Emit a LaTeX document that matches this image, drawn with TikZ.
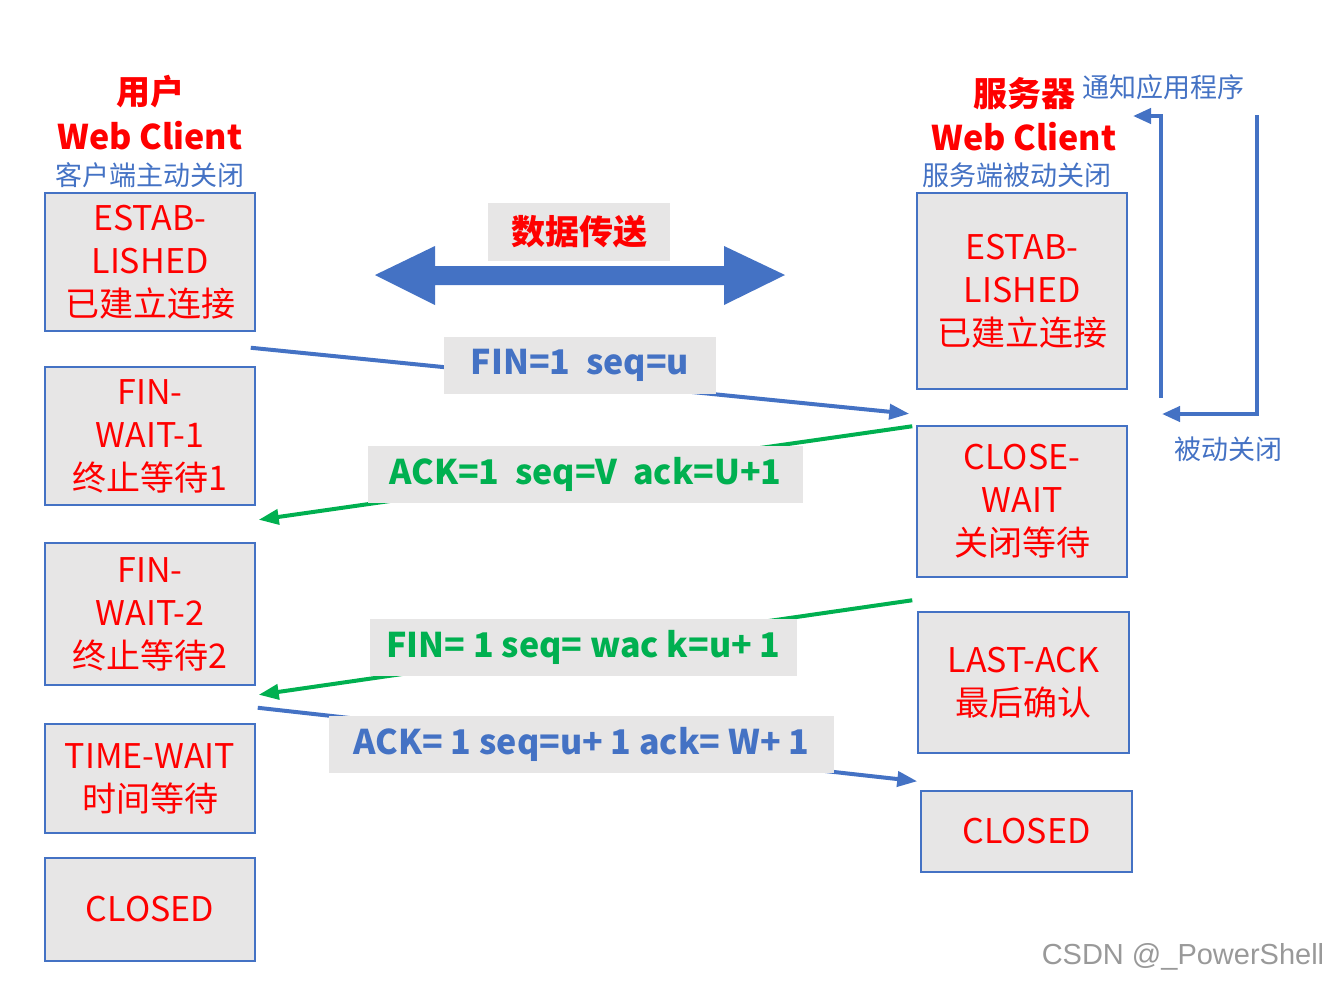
\documentclass[tikz,border=0pt]{standalone}
\usepackage{fontspec}
\setmainfont{Noto Sans CJK SC}
\newfontfamily\wmfont{Liberation Sans}
\usetikzlibrary{arrows.meta, positioning, calc}
\definecolor{tcpRed}{HTML}{FF0000}
\definecolor{tcpBlue}{HTML}{4472C4}
\definecolor{tcpGreen}{HTML}{00B050}
\definecolor{tcpGray}{HTML}{E7E6E6}

\begin{document}
\begin{tikzpicture}[x=1pt, y=-1pt,
  stbox/.style={draw=tcpBlue, line width=1.5pt, fill=tcpGray, text=tcpRed,
    align=center, minimum width=210pt, inner sep=0pt,
    font=\fontsize{34}{43}\selectfont},
  msglbl/.style={fill=tcpGray, inner sep=0pt, minimum height=57pt,
    font=\fontsize{34}{40}\selectfont\bfseries},
  hdr/.style={text=tcpRed, inner sep=0pt, font=\fontsize{34}{40}\selectfont\bfseries},
  subhdr/.style={text=tcpBlue, inner sep=0pt, font=\fontsize{27}{32}\selectfont},
  msg/.style={line width=4pt, -{Triangle[length=20pt, width=15pt]}},
  brk/.style={draw=tcpBlue, line width=4pt, -{Triangle[length=18pt, width=15pt]}}]
  \useasboundingbox (0,0) rectangle (1344,986);

  \node[stbox, minimum height=138pt] (L1) at (150,262) {ESTAB-\\LISHED\\已建立连接};
  \node[stbox, minimum height=138pt] (L2) at (150,436) {FIN-\\WAIT-1\\终止等待1};
  \node[stbox, minimum height=142pt] (L3) at (150,614) {FIN-\\WAIT-2\\终止等待2};
  \node[stbox, minimum height=109pt] (L4) at (150,778.5) {TIME-WAIT\\时间等待};
  \node[stbox, minimum height=103pt] (L5) at (150,909.5) {CLOSED};

  \node[stbox, minimum height=196pt] (R1) at (1022,291) {ESTAB-\\LISHED\\已建立连接};
  \node[stbox, minimum height=151pt] (R2) at (1022,501.5) {CLOSE-\\WAIT\\关闭等待};
  \node[stbox, minimum height=141pt, minimum width=211pt] (R3) at (1023.5,682.5) {LAST-ACK\\最后确认};
  \node[stbox, minimum height=81pt, minimum width=211pt] (R4) at (1026.5,831.5) {CLOSED};

  \node[hdr] (cuser) at (150,92) {用户};
  \node[hdr] (cweb) at (150,136) {Web Client};
  \node[subhdr] (csub) at (150,175) {客户端主动关闭};
  \node[hdr] (suser) at (1024,94) {服务器};
  \node[subhdr] (snote) at (1163,87) {通知应用程序};
  \node[hdr] (sweb) at (1024,137) {Web Client};
  \node[subhdr] (ssub) at (1017,175) {服务端被动关闭};
  \node[subhdr] (spas) at (1228,449) {被动关闭};

  \fill[tcpBlue] (375,275) -- (435,246) -- (435,266) -- (724,266) -- (724,246)
    -- (785,275) -- (724,305) -- (724,285) -- (435,285) -- (435,305) -- cycle;
  \node[msglbl, minimum width=182pt, minimum height=58pt, text=tcpRed] (xfer) at (579,232) {数据传送};

  \coordinate (m1a) at ($(L1.south east)+(-5,16)$);
  \coordinate (m1b) at ($(R1.south west)+(-7,24)$);
  \coordinate (m2a) at ($(R2.north west)+(-4,1)$);
  \coordinate (m2b) at ($(L2.south east)+(3,14)$);
  \coordinate (m3a) at ($(R3.north west)+(-5,-11)$);
  \coordinate (m3b) at ($(L3.south east)+(3,9)$);
  \coordinate (m4a) at ($(L3.south east)+(2,22)$);
  \coordinate (m4b) at ($(R4.north west)+(-3,-9)$);
  \draw[msg, tcpBlue] (m1a) -- (m1b);
  \draw[msg, tcpGreen] (m2a) -- (m2b);
  \draw[msg, tcpGreen] (m3a) -- (m3b);
  \draw[msg, tcpBlue] (m4a) -- (m4b);

  \node[msglbl, minimum width=272pt, text=tcpBlue] (lbl1) at (580,365.5) {FIN=1\ \ seq=u};
  \node[msglbl, minimum width=435pt, text=tcpGreen] (lbl2) at (585.5,474) {ACK=1\ \ seq=V\ \ ack=U+1};
  \node[msglbl, minimum width=427pt, text=tcpGreen] (lbl3) at (583.5,647.5) {FIN= 1 seq= wac k=u+ 1};
  \node[msglbl, minimum width=505pt, text=tcpBlue] (lbl4) at (581.5,744.5) {ACK= 1 seq=u+ 1 ack= W+ 1};

  \coordinate (b1s) at ($(R1.south east)+(33,8)$);
  \coordinate (b1e) at (1133,116);
  \coordinate (b2s) at (1257,115);
  \coordinate (b2e) at (1162,414);
  \draw[brk] (b1s) |- (b1e);
  \draw[brk] (b2s) |- (b2e);

  \node[text=black!40, font=\wmfont\fontsize{29}{34}\selectfont] (wm) at (1183,957) {CSDN @\_PowerShell};
\end{tikzpicture}
\end{document}
